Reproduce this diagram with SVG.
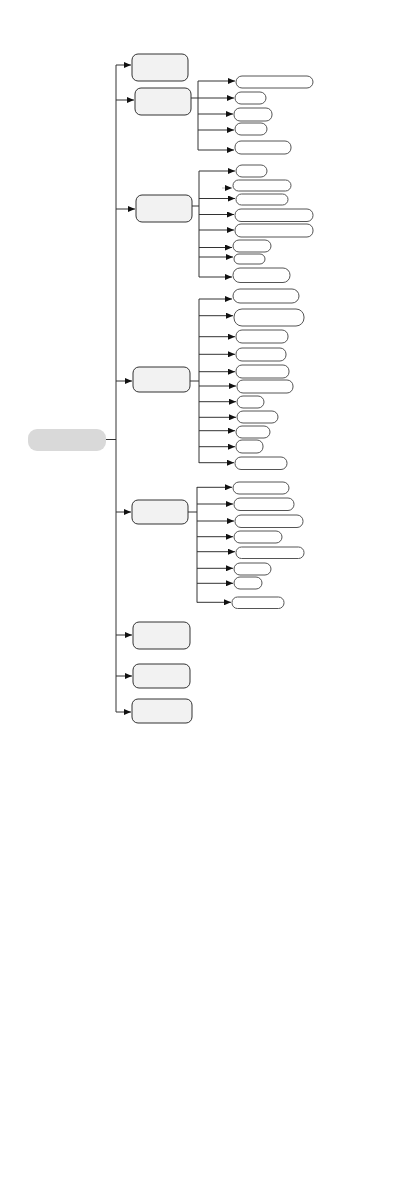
<svg xmlns="http://www.w3.org/2000/svg" width="411" height="1191" viewBox="0 0 411 1191">
<style>
.root{fill:#d9d9d9;stroke:none}
.mid{fill:#f2f2f2;stroke:#333;stroke-width:1}
.leaf{fill:#fff;stroke:#555;stroke-width:1}
.ln{fill:none;stroke:#333;stroke-width:1}
.ar{fill:none;stroke:#333;stroke-width:1;marker-end:url(#ah)}
.faint{stroke:#bbb}
</style>
<defs>
<marker id="ah" markerUnits="userSpaceOnUse" markerWidth="8" markerHeight="6" refX="7" refY="3" orient="auto">
<path d="M0,0 L7,3 L0,6 z" fill="#111"/>
</marker>
</defs>
<rect width="411" height="1191" fill="#fff"/>
<g id="connectors">
<path class="ln" d="M106,439.5 H116 M116,65 V712"/>
<path class="ar" d="M116,65 H131"/>
<path class="ar" d="M116,100 H134"/>
<path class="ar" d="M116,209 H135"/>
<path class="ar" d="M116,381 H132"/>
<path class="ar" d="M116,512 H131"/>
<path class="ar" d="M116,635 H132"/>
<path class="ar" d="M116,676 H132"/>
<path class="ar" d="M116,712 H131"/>
<!-- branch 2 -->
<path class="ln" d="M191,98 H198 M198,81 V150"/>
<path class="ar" d="M198,81 H235"/>
<path class="ar" d="M198,98 H234"/>
<path class="ar" d="M198,114 H233"/>
<path class="ar" d="M198,130 H234"/>
<path class="ar" d="M198,150 H234"/>
<!-- branch 3 -->
<path class="ln" d="M192,206 H199 M199,171 V277"/>
<path class="ar" d="M199,171 H235"/>
<path class="ar faint" d="M222,188 H232"/>
<path class="ar" d="M199,198.5 H235"/>
<path class="ar" d="M199,214.5 H234"/>
<path class="ar" d="M199,230 H234"/>
<path class="ar" d="M199,247.5 H232"/>
<path class="ar" d="M199,257 H233"/>
<path class="ar" d="M199,277 H232"/>
<!-- branch 4 -->
<path class="ln" d="M190,381 H199 M199,299 V463"/>
<path class="ar" d="M199,299 H232"/>
<path class="ar" d="M199,315.7 H233"/>
<path class="ar" d="M199,336.7 H235"/>
<path class="ar" d="M199,354.3 H235"/>
<path class="ar" d="M199,371.7 H235"/>
<path class="ar" d="M199,386 H236"/>
<path class="ar" d="M199,401.7 H236"/>
<path class="ar" d="M199,417.3 H236"/>
<path class="ar" d="M199,430.7 H235"/>
<path class="ar" d="M199,446.7 H235"/>
<path class="ar" d="M199,462.7 H234"/>
<!-- branch 5 -->
<path class="ln" d="M188,512 H197 M197,487 V602.5"/>
<path class="ar" d="M197,487.3 H232"/>
<path class="ar" d="M197,504 H233"/>
<path class="ar" d="M197,521 H234"/>
<path class="ar" d="M197,536.7 H233"/>
<path class="ar" d="M197,551.7 H235"/>
<path class="ar" d="M197,568.3 H233"/>
<path class="ar" d="M197,583.3 H233"/>
<path class="ar" d="M197,602.3 H231"/>
</g>
<g id="root"><rect class="root" x="28" y="429" width="78" height="22" rx="9"/></g>
<g id="n1"><rect class="mid" x="132" y="54" width="56" height="27" rx="6"/></g>
<g id="n2"><rect class="mid" x="135" y="88" width="56" height="27" rx="6"/></g>
<g id="n3"><rect class="mid" x="136" y="195" width="56" height="27" rx="6"/></g>
<g id="n4"><rect class="mid" x="133" y="367" width="57" height="25" rx="6"/></g>
<g id="n5"><rect class="mid" x="132" y="500" width="56" height="24" rx="6"/></g>
<g id="n6"><rect class="mid" x="133" y="622" width="57" height="27" rx="6"/></g>
<g id="n7"><rect class="mid" x="133" y="664" width="57" height="24" rx="6"/></g>
<g id="n8"><rect class="mid" x="132" y="699" width="60" height="24" rx="6"/></g>
<g id="leaves2">
<rect class="leaf" x="236" y="76" width="77" height="12" rx="6"/>
<rect class="leaf" x="235" y="92" width="31" height="12" rx="6"/>
<rect class="leaf" x="234" y="108" width="38" height="13" rx="6"/>
<rect class="leaf" x="235" y="123" width="32" height="12" rx="6"/>
<rect class="leaf" x="235" y="141" width="56" height="13" rx="6"/>
</g>
<g id="leaves3">
<rect class="leaf" x="236" y="165" width="31" height="12" rx="6"/>
<rect class="leaf" x="233" y="180" width="58" height="11" rx="5.5"/>
<rect class="leaf" x="236" y="194" width="52" height="11" rx="5.5"/>
<rect class="leaf" x="235" y="209" width="78" height="12.5" rx="6"/>
<rect class="leaf" x="235" y="224" width="78" height="13" rx="6"/>
<rect class="leaf" x="233" y="240" width="38" height="12" rx="6"/>
<rect class="leaf" x="234" y="254" width="31" height="10" rx="5"/>
<rect class="leaf" x="233" y="268" width="57" height="14.5" rx="7"/>
</g>
<g id="leaves4">
<rect class="leaf" x="233" y="289" width="66" height="14" rx="7"/>
<rect class="leaf" x="234" y="309" width="70" height="17" rx="8"/>
<rect class="leaf" x="236" y="330" width="52" height="13" rx="6"/>
<rect class="leaf" x="236" y="348" width="50" height="13" rx="6"/>
<rect class="leaf" x="236" y="365" width="53" height="13" rx="6"/>
<rect class="leaf" x="237" y="380" width="56" height="13" rx="6"/>
<rect class="leaf" x="237" y="396" width="27" height="12" rx="6"/>
<rect class="leaf" x="237" y="411" width="41" height="12" rx="6"/>
<rect class="leaf" x="236" y="426" width="34" height="12" rx="6"/>
<rect class="leaf" x="236" y="440" width="27" height="13" rx="6"/>
<rect class="leaf" x="235" y="457" width="52" height="12.5" rx="6"/>
</g>
<g id="leaves5">
<rect class="leaf" x="233" y="482" width="56" height="12" rx="6"/>
<rect class="leaf" x="234" y="498" width="60" height="12.5" rx="6"/>
<rect class="leaf" x="235" y="515" width="68" height="12.5" rx="6"/>
<rect class="leaf" x="234" y="531" width="48" height="12" rx="6"/>
<rect class="leaf" x="236" y="547" width="68" height="11.5" rx="5.5"/>
<rect class="leaf" x="234" y="563" width="37" height="12" rx="6"/>
<rect class="leaf" x="234" y="577" width="28" height="12" rx="6"/>
<rect class="leaf" x="232" y="597" width="52" height="11.5" rx="5.5"/>
</g>
</svg>
